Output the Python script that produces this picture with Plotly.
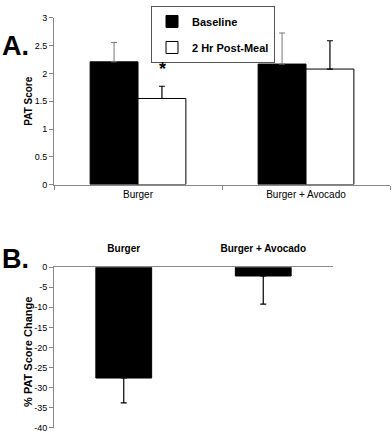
import plotly.graph_objects as go

# ---- Data ----
categories = ["Burger", "Burger + Avocado"]
baseline = [2.21, 2.17]
baseline_err = [0.35, 0.56]
post_meal = [1.55, 2.08]
post_meal_err = [0.22, 0.51]

pct_change = [-27.6, -2.2]
pct_change_err = [6.2, 7.0]

a_yticks = [0, 0.5, 1, 1.5, 2, 2.5, 3]
b_yticks = [0, -5, -10, -15, -20, -25, -30, -35, -40]

W, H = 392, 438
FONT = "Liberation Sans, Arial, sans-serif"

fig = go.Figure()

fig.add_trace(go.Bar(
    x=categories, y=baseline, name="Baseline",
    marker=dict(color="black", line=dict(color="black", width=1)),
    error_y=dict(type="data", array=baseline_err, arrayminus=[0, 0], symmetric=False,
                 color="#777777", thickness=1, width=3),
    xaxis="x", yaxis="y", legendgroup="g1",
))
fig.add_trace(go.Bar(
    x=categories, y=post_meal, name="2 Hr Post-Meal",
    marker=dict(color="white", line=dict(color="black", width=1)),
    error_y=dict(type="data", array=post_meal_err, arrayminus=[0, 0], symmetric=False,
                 color="black", thickness=1.2, width=3),
    xaxis="x", yaxis="y", legendgroup="g2",
))
fig.add_trace(go.Bar(
    x=categories, y=pct_change, showlegend=False,
    marker=dict(color="black", line=dict(color="black", width=1)),
    error_y=dict(type="data", array=[0, 0], arrayminus=pct_change_err, symmetric=False,
                 color="black", thickness=1.2, width=3),
    xaxis="x2", yaxis="y2", width=0.4,
))

fig.update_layout(
    width=W, height=H,
    margin=dict(l=0, r=0, t=0, b=0),
    paper_bgcolor="white", plot_bgcolor="white",
    font=dict(family=FONT, color="black", size=10),
    barmode="group", bargap=0.43, bargroupgap=0,
    showlegend=True,
    legend=dict(
        x=151 / W, y=1 - 1 / H, xanchor="left", yanchor="top",
        bordercolor="#555555", borderwidth=1, bgcolor="white",
        font=dict(family=FONT, size=11, color="black", weight="bold"),
        itemwidth=30, tracegroupgap=7, traceorder="grouped",
    ),
    xaxis=dict(
        domain=[54 / W, 390 / W], anchor="y",
        showline=True, linecolor="#888888", linewidth=1,
        ticks="outside", ticklen=4, tickcolor="#888888", tickson="boundaries",
        tickfont=dict(size=10, family=FONT), showgrid=False,
    ),
    yaxis=dict(
        domain=[1 - 183.7 / H, 1 - 13.3 / H], anchor="x",
        range=[0, 3], tickvals=a_yticks, ticktext=[f"{v:g}" for v in a_yticks],
        showline=True, linecolor="#888888", linewidth=1,
        ticks="outside", ticklen=4, tickcolor="#888888",
        tickfont=dict(size=9, family=FONT), showgrid=False, zeroline=False,
    ),
    xaxis2=dict(
        domain=[54 / W, 333 / W], anchor="y2", side="top",
        showline=True, linecolor="#888888", linewidth=1,
        ticks="", tickfont=dict(size=10, family=FONT, weight="bold"), showgrid=False,
        ticklabelstandoff=10,
    ),
    yaxis2=dict(
        domain=[1 - 432.7 / H, 1 - 268.3 / H], anchor="x2",
        range=[-40, 0], tickvals=b_yticks, ticktext=[f"{v:g}" for v in b_yticks],
        showline=True, linecolor="#888888", linewidth=1,
        ticks="outside", ticklen=4, tickcolor="#888888",
        tickfont=dict(size=9, family=FONT), showgrid=False, zeroline=False,
    ),
)

# axis titles
fig.add_annotation(x=29 / W, y=1 - 98 / H, xref="paper", yref="paper",
                   text="<b>PAT Score</b>", showarrow=False, textangle=-90,
                   xanchor="center", yanchor="middle",
                   font=dict(size=10, family=FONT, color="black"))
fig.add_annotation(x=28 / W, y=1 - 355 / H, xref="paper", yref="paper",
                   text="<b>% PAT Score Change</b>", showarrow=False, textangle=-90,
                   xanchor="center", yanchor="middle",
                   font=dict(size=11, family=FONT, color="black"))

# panel labels
fig.add_annotation(x=0.0, y=1 - 42 / H, xref="paper", yref="paper",
                   text="<b>A.</b>", showarrow=False, xanchor="left", yanchor="middle",
                   font=dict(size=27, family=FONT, color="black"))
fig.add_annotation(x=0.0, y=1 - 260 / H, xref="paper", yref="paper",
                   text="<b>B.</b>", showarrow=False, xanchor="left", yanchor="middle",
                   font=dict(size=27, family=FONT, color="black"))
# significance marker
fig.add_annotation(x=categories[0], y=post_meal[0] + post_meal_err[0], xref="x", yref="y",
                   xshift=24, yshift=5, text="<b>*</b>", showarrow=False, yanchor="bottom",
                   font=dict(size=18, family=FONT, color="black"))

fig.write_html("out.html", config={"displayModeBar": False},
               post_script="document.body.style.margin='0';")
